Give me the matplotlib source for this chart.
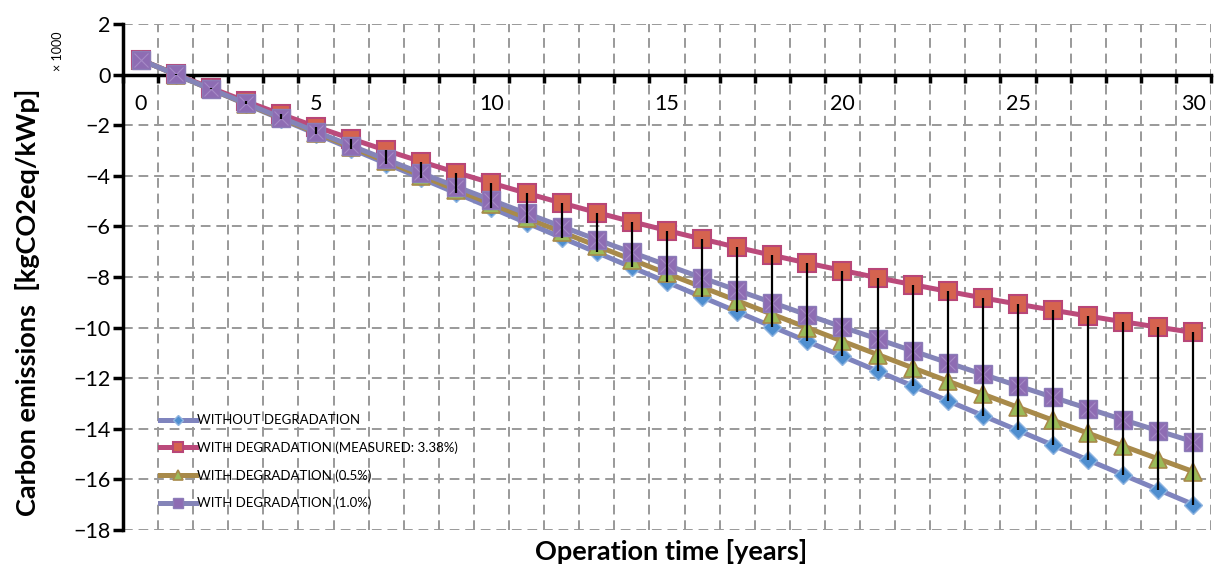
import matplotlib
matplotlib.use('Agg')
import matplotlib.pyplot as plt
from matplotlib.ticker import MultipleLocator, FixedLocator

plt.rcParams['font.family'] = ['Lato', 'DejaVu Sans']

# operation years and cumulative carbon balance (x1000 kgCO2eq/kWp)
years = list(range(31))

no_degradation = [0.586, 0.0, -0.586, -1.172, -1.758, -2.344, -2.930, -3.516, -4.102, -4.688,
                  -5.274, -5.860, -6.446, -7.032, -7.618, -8.204, -8.790, -9.376, -9.962, -10.548,
                  -11.134, -11.720, -12.306, -12.892, -13.478, -14.064, -14.650, -15.236, -15.822,
                  -16.408, -16.994]
measured_deg = [0.586, 0.020, -0.527, -1.056, -1.567, -2.060, -2.537, -2.997, -3.442, -3.872,
                -4.288, -4.689, -5.077, -5.452, -5.814, -6.164, -6.502, -6.829, -7.144, -7.449,
                -7.744, -8.028, -8.303, -8.569, -8.826, -9.074, -9.314, -9.545, -9.769, -9.985,
                -10.194]
deg_05 = [0.586, 0.003, -0.577, -1.154, -1.729, -2.300, -2.869, -3.435, -3.998, -4.558,
          -5.115, -5.670, -6.222, -6.771, -7.317, -7.861, -8.401, -8.940, -9.475, -10.008,
          -10.538, -11.065, -11.590, -12.112, -12.632, -13.149, -13.663, -14.175, -14.684,
          -15.191, -15.695]
deg_10 = [0.586, 0.006, -0.568, -1.137, -1.700, -2.257, -2.809, -3.355, -3.896, -4.431,
          -4.961, -5.486, -6.005, -6.520, -7.029, -7.533, -8.032, -8.525, -9.014, -9.499,
          -9.978, -10.453, -10.922, -11.387, -11.848, -12.304, -12.755, -13.201, -13.644,
          -14.082, -14.515]

labels = ['WITHOUT DEGRADATION',
          'WITH DEGRADATION (MEASURED: 3.38%)',
          'WITH DEGRADATION (0.5%)',
          'WITH DEGRADATION (1.0%)']
x_tick_labels = ['0', '5', '10', '15', '20', '25', '30']

fig = plt.figure(figsize=(12.15, 5.67), dpi=100)
ax = fig.add_axes([0.1012, 0.0653, 0.8955, 0.8924])

ax.plot(years, no_degradation, color='#7f84be', lw=3.6, marker='D', ms=9,
        mfc='#4f8fd0', mec='#8fb4e0', mew=1.0, label=labels[0], zorder=3)
ax.plot(years, measured_deg, color='#bb4a7b', lw=3.6, marker='s', ms=13,
        mfc='#d5634f', mec='#b84677', mew=1.5, label=labels[1], zorder=4)
ax.plot(years, deg_05, color='#a88a4a', lw=3.6, marker='^', ms=13,
        mfc='#9bbb59', mec='#a88a4a', mew=1.2, label=labels[2], zorder=5)
ax.plot(years, deg_10, color='#8484b8', lw=3.6, marker='s', ms=13,
        mfc='#8e6cb3', mec='#8c7cb8', mew=1.0, label=labels[3], zorder=6)
ax.plot(years, deg_10, ls='none', marker='x', ms=10, mec='#a58ac6', mew=0.8, zorder=6)

# high-low lines between measured and no-degradation curves
ax.vlines(years, no_degradation, measured_deg, color='black', lw=1.6, zorder=10)

ax.set_xlim(-0.5, 30.5)
ax.set_ylim(-18, 2)

ax.xaxis.set_major_locator(FixedLocator([0, 5, 10, 15, 20, 25, 30]))
ax.set_xticklabels(x_tick_labels)
ax.xaxis.set_minor_locator(MultipleLocator(1, offset=0.5))
ax.yaxis.set_major_locator(MultipleLocator(2))

ax.spines['bottom'].set_position(('data', 0))
ax.spines['bottom'].set_linewidth(2.5)
ax.spines['left'].set_linewidth(2.5)
ax.spines['top'].set_visible(False)
ax.spines['right'].set_visible(False)
ax.spines['left'].set_zorder(11)
ax.spines['bottom'].set_zorder(2)

ax.tick_params(axis='x', which='major', length=0, pad=14, labelsize=15.5)
ax.tick_params(axis='x', which='minor', length=6, width=2.5, direction='out')
ax.tick_params(axis='y', which='major', length=7, width=2.5, direction='out', labelsize=15.5, pad=2)

ax.grid(True, which='minor', axis='x', color='#999999', ls=(0, (5, 3)), lw=1.4)
ax.grid(True, which='major', axis='y', color='#999999', ls=(0, (5, 3)), lw=1.4)
ax.set_axisbelow(True)

ax.set_ylabel('Carbon emissions  [kgCO2eq/kWp]', fontsize=19.5, fontweight='bold', va='center')
ax.yaxis.set_label_coords(-0.0873, 0.45)
ax.set_xlabel('Operation time [years]', fontsize=19.5, fontweight='bold', va='center')
ax.xaxis.set_label_coords(0.504, -0.0435)
fig.text(0.0477, 0.91, '× 1000', rotation=90, fontsize=9, ha='center', va='center')

leg = ax.legend(loc='upper left', bbox_to_anchor=(0.122, 0.29), bbox_transform=fig.transFigure,
                frameon=False, fontsize=9.5, labelspacing=1.14, handlelength=2.7,
                handletextpad=0.1, markerscale=0.55)

fig.savefig('out.png', dpi=100)
